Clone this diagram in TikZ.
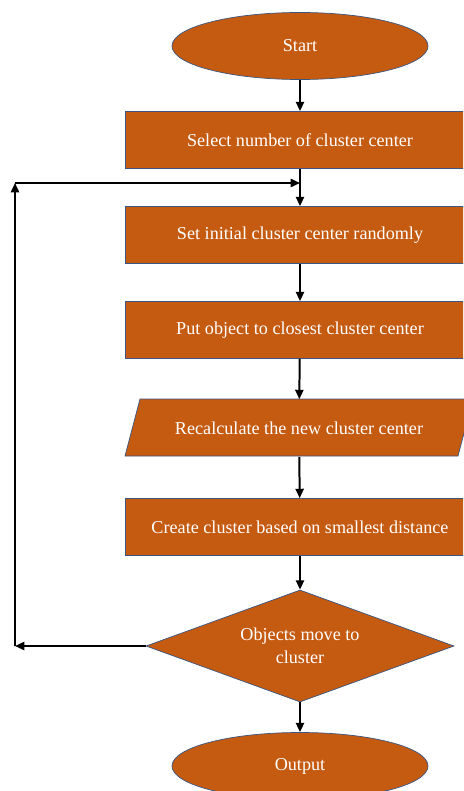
\documentclass[tikz,border=0pt]{standalone}
\usepackage{fontspec}
\setmainfont{Liberation Serif}
\usepackage{tikz}
\usetikzlibrary{shapes.geometric}
\usetikzlibrary{arrows.meta}
\usetikzlibrary{backgrounds}
\definecolor{rust}{HTML}{C55A11}
\definecolor{rim}{HTML}{3B5680}

\begin{document}
\begin{tikzpicture}[x=0.03cm, y=-0.03cm, >={Triangle[length=8pt,width=7pt]},
	box/.style={draw=rim, line width=0.6pt, fill=rust, text=white, font=\fontsize{15.5}{20}\selectfont},
	term/.style={box, ellipse, inner sep=0pt, minimum width=7.68cm, minimum height=2.01cm},
	proc/.style={box, rectangle, minimum width=10.5cm, minimum height=1.71cm},
	io/.style={box, draw=none, fill=none, rectangle, minimum width=9.99cm, minimum height=1.71cm},
	choice/.style={box, diamond, aspect=2.75, align=center, inner sep=0pt, minimum width=9.24cm, minimum height=3.36cm},
	flow/.style={line width=1.7pt, black, ->}]
	\useasboundingbox (0,0) rectangle (463,791);
	\clip (0,0) rectangle (463,791);
	\path (300,46) node(start)[term]{Start}
	(300,140) node(select)[proc]{Select number of cluster center}
	(300,235) node(init)[proc]{Set initial cluster center randomly}
	(300,330) node(assign)[proc]{Put object to closest cluster center}
	(299,428) node(recalc)[io]{Recalculate the new cluster center}
	(300,527) node(create)[proc]{Create cluster based on smallest distance}
	(300,646) node(moved)[choice]{Objects move to\\cluster}
	(300,766) node(output)[term]{Output};
	% slanted data box behind its text
	\begin{scope}[on background layer]
		\draw [rim, line width=0.6pt, fill=rust] (125,456) -- (458,456) -- (473,399) -- (140,399) -- cycle;
	\end{scope}
	\coordinate (back) at (15,646);
	\coordinate (up) at (15,183);
	\coordinate (join) at (300,183);
	\draw [flow] (start) -- (select);
	\draw [flow] (select) -- (init);
	\draw [flow] (init) -- (assign);
	\draw [flow] (assign) -- (recalc);
	\draw [flow] (recalc) -- (create);
	\draw [flow] (create) -- (moved);
	\draw [flow] (moved) -- (output);
	\draw [flow] (moved.west) -- (back);
	\draw [flow] (back) -- (up);
	\draw [flow] (up) -- (join);
\end{tikzpicture}
\end{document}
